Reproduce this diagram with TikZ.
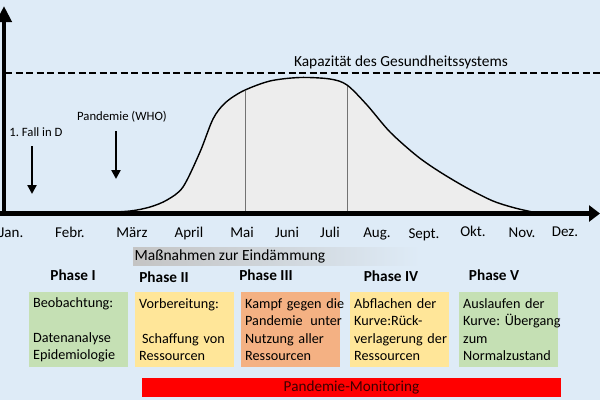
\documentclass[tikz,border=0pt]{standalone}
\usepackage{fontspec}
\setmainfont{Carlito}
\usetikzlibrary{arrows.meta}
\frenchspacing
\definecolor{bg}{HTML}{DEEBF7}
\definecolor{curvefill}{HTML}{EDEDED}
\definecolor{pgreen}{HTML}{C5E0B4}
\definecolor{pyellow}{HTML}{FFE699}
\definecolor{porange}{HTML}{F4B183}
\definecolor{mtext}{HTML}{3C0000}
\definecolor{mgray}{HTML}{C4C4C4}
\begin{document}
\begin{tikzpicture}[x=1pt,y=-1pt,
  month/.style={font=\fontsize{15}{17}\selectfont, anchor=base, inner sep=0pt},
  phase/.style={font=\bfseries\fontsize{15.3}{18}\selectfont, inner sep=0pt},
  lbl/.style={font=\fontsize{12.7}{15}\selectfont, inner sep=0pt},
  phasebox/.style={anchor=north west, minimum width=99pt, minimum height=75pt,
     text width=91pt, inner xsep=4pt, inner ysep=4pt, align=left,
     font=\fontsize{14.2}{17.3}\selectfont},
  axisline/.style={line width=4.5pt, black},
  event/.style={line width=2.5pt, -{Triangle[width=9pt,length=9pt]}},
  divider/.style={draw=black!55, line width=0.8pt}
]
\useasboundingbox (0,0) rectangle (600,400);
\fill[bg] (0,0) rectangle (600,400);

% curve fill
\fill[curvefill] plot[smooth] coordinates {(65,213) (100,212.5) (130,211) (150,207) (167,200) (183,187) (200,152) (213,119) (225,103) (243,91) (270,81) (300,77.5) (330,79) (347,85) (367,105) (390,132) (417,156) (440,172) (467,188) (493,201) (515,208) (535,212.5)} -- cycle;

% dividers
\coordinate (d1t) at (245,90.5);
\coordinate (d1b) at (245,213);
\coordinate (d2t) at (347,85);
\coordinate (d2b) at (347,213);
\draw[divider] (d1t) -- (d1b);
\draw[divider] (d2t) -- (d2b);

% curve stroke
\draw[line width=1.4pt] plot[smooth] coordinates {(65,213) (100,212.5) (130,211) (150,207) (167,200) (183,187) (200,152) (213,119) (225,103) (243,91) (270,81) (300,77.5) (330,79) (347,85) (367,105) (390,132) (417,156) (440,172) (467,188) (493,201) (515,208) (535,212.5)};

% capacity
\coordinate (capL) at (5,73);
\coordinate (capR) at (600,73);
\draw[line width=1.6pt, dash pattern=on 7pt off 3.5pt] (capL) -- (capR);
\node[font=\fontsize{15.4}{18}\selectfont, inner sep=0pt] (cap) at (401,62) {Kapazität des Gesundheitssystems};

% axes
\coordinate (ybot) at (4,215.5);
\coordinate (ytop) at (4,6);
\coordinate (xleft) at (0,213.5);
\coordinate (xright) at (600,213.5);
\draw[axisline, -{Triangle[width=15pt,length=16pt]}] (ybot) -- (ytop);
\draw[axisline, -{Triangle[width=16pt,length=11pt]}] (xleft) -- (xright);

% events
\node[lbl] (fall) at (36,132) {1. Fall in D};
\node[lbl] (who) at (122,117) {Pandemie (WHO)};
\coordinate (fallA) at (32,146);
\coordinate (fallB) at (32,194);
\coordinate (whoA) at (116,131);
\coordinate (whoB) at (116,179);
\draw[event] (fallA) -- (fallB);
\draw[event] (whoA) -- (whoB);

% months
\node[month] (m1) at (11.5,237) {Jan.};
\node[month] (m2) at (70,237) {Febr.};
\node[month] (m3) at (132,237) {März};
\node[month] (m4) at (189,237.5) {April};
\node[month] (m5) at (242,237) {Mai};
\node[month] (m6) at (287,237.5) {Juni};
\node[month] (m7) at (330,237.5) {Juli};
\node[month] (m8) at (377,237.5) {Aug.};
\node[month] (m9) at (424,238) {Sept.};
\node[month] (m10) at (473,236.5) {Okt.};
\node[month] (m11) at (522,237) {Nov.};
\node[month] (m12) at (565,236.5) {Dez.};

% measures bar
\shade[left color=mgray, right color=bg, middle color=mgray!55!bg] (133,247) rectangle (420,265);
\node[font=\fontsize{15.5}{18}\selectfont, anchor=west, inner sep=1.5pt] (mass) at (133,256.5) {Maßnahmen zur Eindämmung};

% phases
\node[phase] (p1) at (73,275) {Phase I};
\node[phase] (p2) at (164,277) {Phase II};
\node[phase] (p3) at (266,275) {Phase III};
\node[phase] (p4) at (391,276) {Phase IV};
\node[phase] (p5) at (494,275) {Phase V};

\node[phasebox, fill=pgreen] (b1) at (29,292) {\mbox{Beobachtung:}\\\strut\\\mbox{Datenanalyse}\\\mbox{Epidemiologie}};
\node[phasebox, fill=pyellow] (b2) at (135,292) {\mbox{Vorbereitung:}\\\strut\\\mbox{\hspace*{3pt}Schaffung von}\\\mbox{Ressourcen}};
\node[phasebox, fill=porange] (b3) at (241,292) {\mbox{Kampf gegen die}\\\mbox{Pandemie\hspace{0.55em}unter}\\\mbox{Nutzung aller}\\\mbox{Ressourcen}};
\node[phasebox, fill=pyellow] (b4) at (350,292) {\mbox{Abflachen der}\\\mbox{Kurve:Rück-}\\\mbox{verlagerung der}\\\mbox{Ressourcen}};
\node[phasebox, fill=pgreen] (b5) at (459,292) {\mbox{Auslaufen der}\\\mbox{Kurve: Übergang}\\\mbox{zum}\\\mbox{Normalzustand}};

% monitoring
\node[fill=red, minimum width=419pt, minimum height=19pt, inner sep=0pt, text=mtext, font=\fontsize{15.2}{18}\selectfont] (mon) at (351.5,387.5) {Pandemie-Monitoring};
\end{tikzpicture}
\end{document}
